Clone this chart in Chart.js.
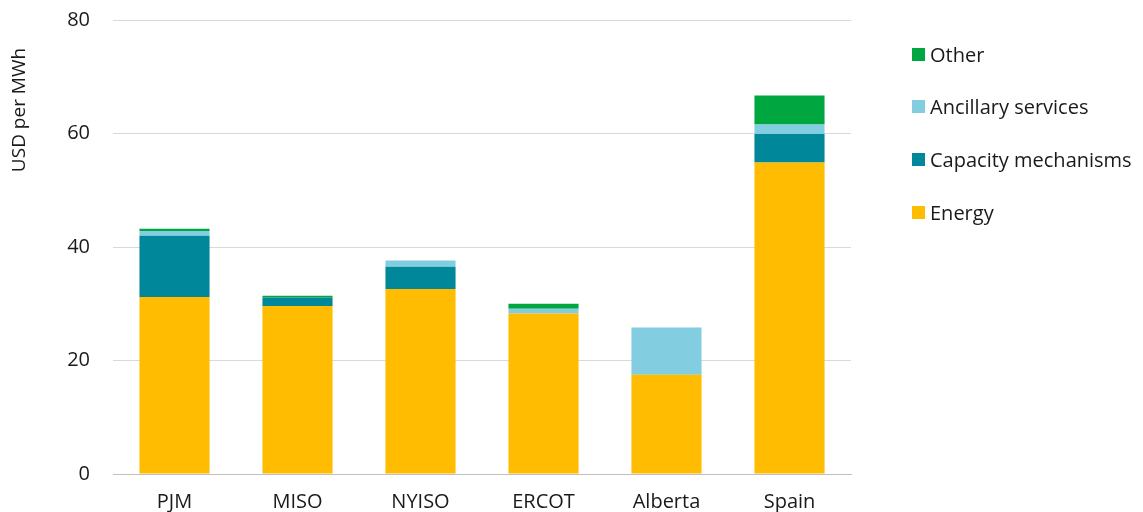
<!DOCTYPE html>
<html><head><meta charset="utf-8">
<script src="https://cdn.jsdelivr.net/npm/chart.js@4"></script>
<style>
html,body{margin:0;padding:0;background:#fff;}
#wrap{position:relative;width:1143px;height:512px;}
#legend{position:absolute;left:912px;top:0;font-family:"Open Sans",sans-serif;font-size:20px;color:#1a1a1a;}
#legend .item{position:absolute;left:0;white-space:nowrap;display:flex;align-items:center;}
#legend .sw{width:13px;height:13px;margin-right:5px;display:inline-block;}
</style></head>
<body><div id="wrap"><canvas id="c" width="1143" height="512"></canvas><div id="legend"></div></div>
<script>
const categories = ["PJM","MISO","NYISO","ERCOT","Alberta","Spain"];
const energy = [31.2, 29.6, 32.6, 28.3, 17.5, 54.9];
const capacity = [10.8, 1.5, 3.9, 0, 0, 5.0];
const ancillary = [0.8, 0, 1.1, 0.8, 8.3, 1.7];
const other = [0.4, 0.3, 0, 0.9, 0, 5.1];
const seriesNames = ["Energy","Capacity mechanisms","Ancillary services","Other"];
const seriesColors = ["#FFBC00","#00879A","#82CEE0","#00A63F"];
const yTicks = [0,20,40,60,80];
const yTitle = "USD per MWh";

const values = [energy, capacity, ancillary, other];
const datasets = values.map((v,i)=>({label:seriesNames[i],data:v,backgroundColor:seriesColors[i],borderWidth:0,barPercentage:0.57,categoryPercentage:1}));
const font = {family:"'Open Sans', sans-serif", size:20};
const titlePlugin = {
  id:'ytitle',
  afterDraw(ch){
    const ctx=ch.ctx;ctx.save();
    ctx.translate(20,110);ctx.rotate(-Math.PI/2);
    ctx.font="19px 'Open Sans', sans-serif";ctx.fillStyle='#1a1a1a';
    ctx.textAlign='center';ctx.textBaseline='middle';
    ctx.fillText(yTitle,0,0);ctx.restore();
  }
};
const chart = new Chart(document.getElementById('c'),{
  type:'bar',
  data:{labels:categories,datasets},
  plugins:[titlePlugin],
  options:{
    responsive:false,animation:false,
    layout:{padding:{top:20,right:292,left:0,bottom:0}},
    plugins:{legend:{display:false},tooltip:{enabled:false}},
    scales:{
      x:{stacked:true,grid:{display:false},border:{color:'#bfbfbf',width:1},
         ticks:{color:'#1a1a1a',font,padding:8},
         afterFit:s=>{s.height=38;s.paddingLeft=0;s.paddingRight=0;}},
      y:{stacked:true,min:0,max:80,
         afterBuildTicks:s=>{s.ticks=yTicks.map(v=>({value:v}));},
         grid:{color:'#d9d9d9',drawTicks:false},border:{display:false},
         ticks:{color:'#1a1a1a',font,padding:23},
         afterFit:s=>{s.width=113;s.paddingTop=0;s.paddingBottom=0;}}
    }
  }
});
const lg = document.getElementById('legend');
const tops=[55,107,160,213];
chart.data.datasets.slice().reverse().forEach((d,i)=>{
  const it=document.createElement('div');it.className='item';
  it.style.top=(tops[i]-14)+'px';
  it.innerHTML='<span class="sw" style="background:'+d.backgroundColor+'"></span><span>'+d.label+'</span>';
  lg.appendChild(it);
});
</script></body></html>
